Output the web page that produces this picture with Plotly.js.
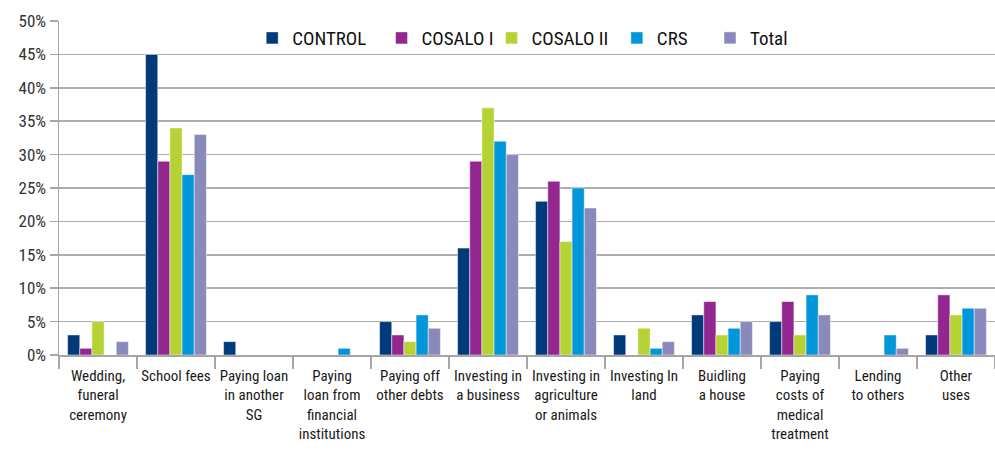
<!DOCTYPE html>
<html>
<head>
<meta charset="utf-8">
<script src="https://cdn.plot.ly/plotly-3.0.1.min.js"></script>
<style>
  html, body { margin: 0; padding: 0; background: #fff; }
  #chart { width: 995px; height: 450px; }
  #chart text { font-stretch: 75%; }
</style>
</head>
<body>
<div id="chart"></div>
<script>
// Uses of savings by group (share of respondents, %)
const categories = [
  "Wedding,<br>funeral<br>ceremony",
  "School fees",
  "Paying loan<br>in another<br>SG",
  "Paying<br>loan from<br>financial<br>institutions",
  "Paying off<br>other debts",
  "Investing in<br>a business",
  "Investing in<br>agriculture<br>or animals",
  "Investing In<br>land",
  "Buidling<br>a house",
  "Paying<br>costs of<br>medical<br>treatment",
  "Lending<br>to others",
  "Other<br>uses"
];

const seriesNames = ["CONTROL", "COSALO I", "COSALO II", "CRS", "Total"];

const control  = [3, 45, 2, 0, 5, 16, 23, 3, 6, 5, 0, 3];
const cosalo1  = [1, 29, 0, 0, 3, 29, 26, 0, 8, 8, 0, 9];
const cosalo2  = [5, 34, 0, 0, 2, 37, 17, 4, 3, 3, 0, 6];
const crs      = [0, 27, 0, 1, 6, 32, 25, 1, 4, 9, 3, 7];
const total    = [2, 33, 0, 0, 4, 30, 22, 2, 5, 6, 1, 7];

const colors = ["#003a7a", "#92278f", "#b5d334", "#0096da", "#8a89bb"];
const seriesValues = [control, cosalo1, cosalo2, crs, total];

const font = "'Roboto Condensed', 'Open Sans', sans-serif";

// Each series gets its own legend box so the entries sit in a single spaced row
const legendIds = ["legend", "legend2", "legend3", "legend4", "legend5"];
const legendX = [0.2064, 0.3446, 0.4621, 0.5960, 0.6955];

const traces = seriesValues.map((vals, i) => ({
  type: "bar",
  name: seriesNames[i],
  legend: legendIds[i],
  x: categories,
  y: vals,
  marker: { color: colors[i], line: { color: "rgba(255,255,255,0.6)", width: 0.8 } },
  hoverinfo: "x+y+name"
}));

const layout = {
  width: 995,
  height: 450,
  margin: { l: 59, r: 0, t: 21, b: 95 },
  paper_bgcolor: "#ffffff",
  plot_bgcolor: "#ffffff",
  barmode: "group",
  bargap: 0.22,
  bargroupgap: 0,
  font: { family: font, size: 15, color: "#222" },
  showlegend: true,
  xaxis: {
    type: "category",
    showgrid: false,
    showline: true,
    linecolor: "#a6a6a6",
    linewidth: 1.5,
    ticks: "outside",
    tickson: "boundaries",
    ticklen: 12,
    tickcolor: "#a6a6a6",
    tickwidth: 1.5,
    tickangle: 0,
    ticklabelstandoff: 6,
    tickfont: { family: font, size: 15, color: "#1a1a1a" },
    automargin: false
  },
  yaxis: {
    range: [0, 50],
    dtick: 5,
    ticksuffix: "%",
    showgrid: true,
    gridcolor: "#adadad",
    gridwidth: 1.5,
    showline: true,
    linecolor: "#a6a6a6",
    linewidth: 1.5,
    ticks: "outside",
    ticklen: 8,
    tickcolor: "#a6a6a6",
    tickwidth: 1.5,
    zeroline: false,
    tickfont: { family: font, size: 17, color: "#333" },
    automargin: false
  }
};

legendIds.forEach((id, i) => {
  layout[id] = {
    orientation: "h",
    x: legendX[i], xanchor: "left",
    y: 0.949, yanchor: "middle",
    bgcolor: "rgba(255,255,255,0)",
    font: { family: font, size: 19, color: "#111" },
    itemwidth: 30
  };
});

Plotly.newPlot("chart", traces, layout, { displayModeBar: false, staticPlot: true });
</script>
</body>
</html>
